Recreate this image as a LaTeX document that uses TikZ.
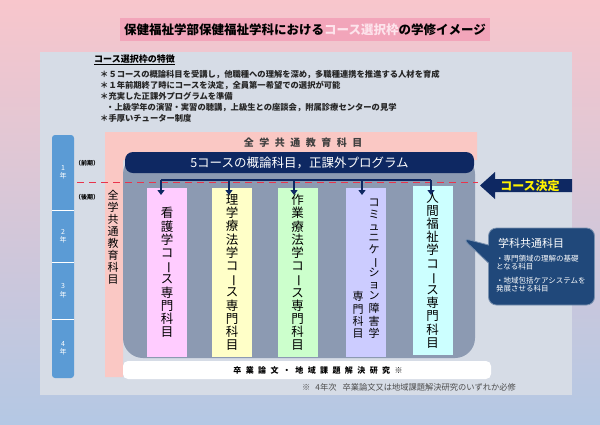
\documentclass[tikz,border=0pt]{standalone}
\usepackage{fontspec}
\usepackage{graphicx}
\setmainfont{Noto Sans CJK JP}
\usetikzlibrary{arrows.meta, shapes.callouts}

\definecolor{bgtop}{RGB}{248,198,204}
\definecolor{bgbot}{RGB}{180,200,228}
\definecolor{panelc}{RGB}{214,220,230}
\definecolor{titlec}{RGB}{242,165,186}
\definecolor{titlehi}{RGB}{253,228,236}
\definecolor{commonc}{RGB}{250,200,196}
\definecolor{navyc}{RGB}{14,40,98}
\definecolor{slatec}{RGB}{140,154,178}
\definecolor{yearc}{RGB}{91,155,213}
\definecolor{dashc}{RGB}{232,52,76}
\definecolor{calloutc}{RGB}{32,72,122}
\definecolor{nursec}{RGB}{255,204,255}
\definecolor{ptc}{RGB}{255,255,200}
\definecolor{otc}{RGB}{204,255,204}
\definecolor{stc}{RGB}{204,204,255}
\definecolor{swc}{RGB}{204,255,255}

\newcommand{\tbar}{\rotatebox[origin=c]{-90}{ー}}
\newcommand{\tcol}[1]{\begin{tabular}[b]{@{}c@{}}#1\end{tabular}}

\begin{document}
\begin{tikzpicture}[x=1pt, y=-1pt,
    course/.style={inner sep=0pt, minimum width=40pt, minimum height=169pt, align=center,
                   font=\fontsize{12.5}{13.2}\selectfont},
    yearseg/.style={minimum width=22pt, minimum height=#1, inner sep=0pt, align=center,
                    text=white, font=\fontsize{7}{8.5}\selectfont},
    term/.style={font=\bfseries\fontsize{6}{7}\selectfont},
    down/.style={navyc, line width=2pt, -{Triangle[width=7pt, length=5pt]}},
    spaced/.style={font=\bfseries\fontsize{#1}{#1}\selectfont\addfontfeatures{LetterSpace=55}}
]
\useasboundingbox (0,0) rectangle (600,424);
\shade[top color=bgtop, bottom color=bgbot] (0,0) rectangle (600,424);
\fill[panelc] (40,52) rectangle (572,395);

\node[fill=titlec, minimum width=370pt, minimum height=23pt, inner sep=0pt,
      font=\bfseries\fontsize{12.5}{14}\selectfont] (title) at (305,29.5)
      {保健福祉学部保健福祉学科における\textcolor{titlehi}{コース選択枠}の学修イメージ};

\node[anchor=west, inner sep=0pt, font=\bfseries\fontsize{9}{10}\selectfont] (feathead) at (94,60)
      {\underline{コース選択枠の特徴}};
\node[anchor=north west, inner sep=0pt, align=left, text=black!85,
      font=\bfseries\fontsize{8.3}{10.9}\selectfont] (feat) at (100,70)
      {＊５コースの概論科目を受講し，他職種への理解を深め，多職種連携を推進する人材を育成\\
       ＊１年前期終了時にコースを決定，全員第一希望での選択が可能\\
       ＊充実した正課外プログラムを準備\\
       \hspace*{6pt}・上級学年の演習・実習の聴講，上級生との座談会，附属診療センターの見学\\
       ＊手厚いチューター制度};

\fill[yearc, rounded corners=3pt] (52,135) rectangle (74,378);
\node[yearseg=75pt]  (y1) at (63,172.5) {1\\年};
\node[yearseg=52pt]  (y2) at (63,236)   {2\\年};
\node[yearseg=57pt]  (y3) at (63,290.5) {3\\年};
\node[yearseg=59pt]  (y4) at (63,348.5) {4\\年};
\draw[white, line width=0.8pt] (y1.south west) -- (y1.south east);
\draw[white, line width=0.8pt] (y2.south west) -- (y2.south east);
\draw[white, line width=0.8pt] (y3.south west) -- (y3.south east);
\node[term] (first)  at (87,163) {（前期）};
\node[term] (second) at (87,197) {（後期）};

\fill[commonc] (105,132) -- (477,132) -- (477,160) -- (123,160) -- (123,377) -- (105,377) -- cycle;
\node[spaced=10, text=black!75] (commontop) at (303,143) {全学共通教育科目};
\node[inner sep=0pt, align=center, font=\fontsize{11}{12}\selectfont] (commonside) at (113,237)
      {全\\学\\共\\通\\教\\育\\科\\目};

\fill[slatec, rounded corners=20pt] (123,154) rectangle (475,358);
\node[fill=navyc, rounded corners=8pt, minimum width=349pt, minimum height=21pt, inner sep=0pt,
      text=white, font=\fontsize{12.5}{14}\selectfont] (overview) at (299.5,162.5)
      {5コースの概論科目，正課外プログラム};

\node[course, fill=nursec] (c1) at (167,272.5)
      {看\\護\\学\\コ\\\tbar\\ス\\専\\門\\科\\目};
\node[course, fill=ptc]    (c2) at (232,272.5)
      {理\\学\\療\\法\\学\\コ\\\tbar\\ス\\専\\門\\科\\目};
\node[course, fill=otc]    (c3) at (297.5,272.5)
      {作\\業\\療\\法\\学\\コ\\\tbar\\ス\\専\\門\\科\\目};
\node[course, fill=stc, font=\fontsize{11}{11.4}\selectfont] (c4) at (366,272.5)
      {\tcol{専\\門\\科\\目\\[5pt]}\hspace{5pt}%
       \tcol{コ\\ミ\\ュ\\ニ\\ケ\\\tbar\\シ\\ョ\\ン\\障\\害\\学}};
\node[course, fill=swc]    (c5) at (432.5,270)
      {人\\間\\福\\祉\\学\\コ\\\tbar\\ス\\専\\門\\科\\目};

\coordinate (dl) at (77,182.5);
\coordinate (dr) at (478,182.5);
\draw[dashc, line width=1.6pt, dash pattern=on 7pt off 5pt] (dl) -- (dr);

\foreach \i/\x in {1/161, 2/229, 3/294, 4/362, 5/431} {
  \coordinate (s\i) at (\x,180);
  \coordinate (t\i) at (\x,195);
}
\draw[navyc, line width=1.8pt] (s1) -- (s5);
\foreach \i in {1,...,5}
  \draw[down] (s\i) -- (t\i);

\fill[navyc] (480,185.5) -- (495,172) -- (495,179) -- (572,179) -- (572,192)
      -- (495,192) -- (495,199) -- cycle;
\node[text=yellow, font=\bfseries\fontsize{12}{13}\selectfont] (decide) at (530,185.5) {コース決定};

\coordinate (ptip) at (462,238);
\node[rectangle callout, callout absolute pointer=(ptip), callout pointer width=18pt,
      fill=calloutc, draw=calloutc!60!white, line width=0.8pt, rounded corners=8pt,
      minimum width=106pt, minimum height=77pt] (shared) at (541.5,266.5) {};
\node[anchor=west, inner sep=0pt, text=white, font=\fontsize{11}{12}\selectfont] (sharedtitle)
      at (498,243) {学科共通科目};
\node[anchor=north west, inner sep=0pt, align=left, text=white,
      font=\fontsize{7.5}{8.3}\selectfont] (shared1) at (496,255)
      {・専門領域の理解の基礎\\となる科目};
\node[anchor=north west, inner sep=0pt, align=left, text=white,
      font=\fontsize{7.5}{8.3}\selectfont] (shared2) at (496,277)
      {・地域包括ケアシステムを\\発展させる科目};

\node[fill=white, rounded corners=5pt, minimum width=368pt, minimum height=18pt, inner sep=0pt]
      (thesis) at (307,370) {};
\node[spaced=8] (thesislabel) at (318,370) {卒業論文・地域課題解決研究※};
\node[anchor=west, inner sep=0pt, text=black!70, font=\fontsize{8.25}{9}\selectfont] (note)
      at (302,387.5) {※\hspace{5pt}4年次\hspace{6pt}卒業論文又は地域課題解決研究のいずれか必修};
\end{tikzpicture}
\end{document}
